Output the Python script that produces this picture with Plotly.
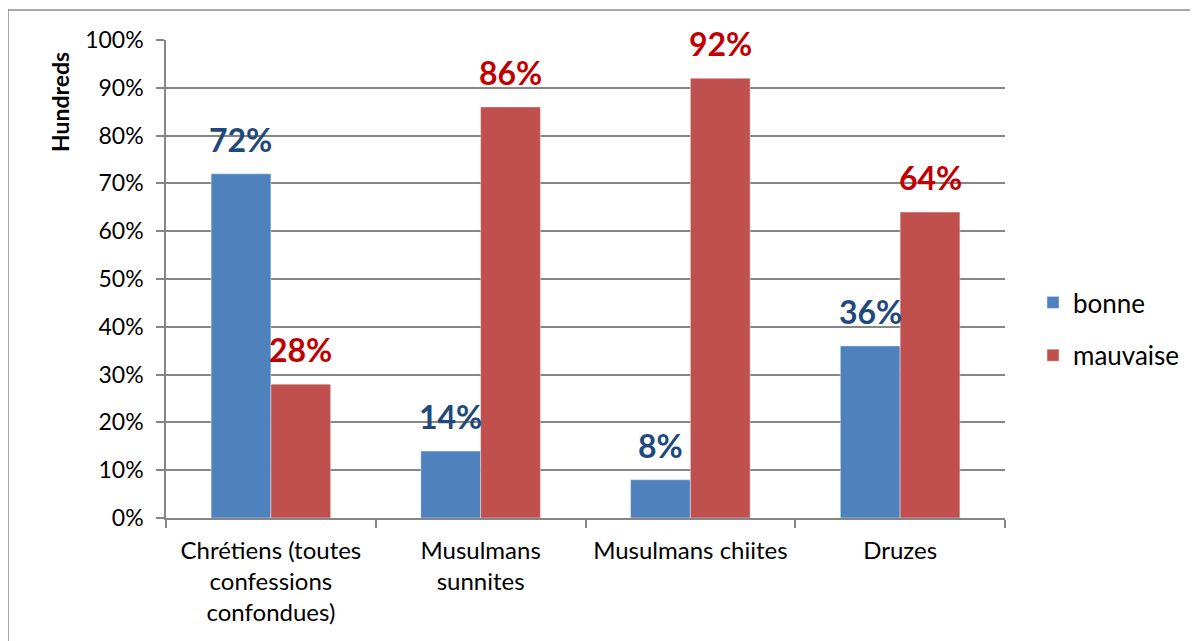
import plotly.graph_objects as go

categories = ["Chrétiens (toutes<br>confessions<br>confondues)", "Musulmans<br>sunnites", "Musulmans chiites", "Druzes"]
bonne = [72, 14, 8, 36]
mauvaise = [28, 86, 92, 64]
series_names = ["bonne", "mauvaise"]
tick_vals = [0, 10, 20, 30, 40, 50, 60, 70, 80, 90, 100]
tick_text = ["0%", "10%", "20%", "30%", "40%", "50%", "60%", "70%", "80%", "90%", "100%"]

FONT = "Lato"
BLUE = "#4F81BD"
RED = "#C0504D"
BLUE_TXT = "#1F497D"
RED_TXT = "#C00000"
GRID = "#868686"

OFF = 8  # page body margin
W, H = 1198, 641
L, T = 166 - OFF, 40 - OFF
R = W - (1005 - OFF)
B = H - (518 - OFF)
pw = W - L - R
ph = H - T - B


def px_x(page_x):
    return (page_x - OFF - L) / pw


def px_y(page_y):
    return 1 - (page_y - OFF - T) / ph


fig = go.Figure()
fig.add_trace(go.Bar(x=categories, y=bonne, name=series_names[0], marker_color=BLUE,
                     legendgroup="a"))
fig.add_trace(go.Bar(x=categories, y=mauvaise, name=series_names[1], marker_color=RED,
                     legendgroup="b"))

annotations = []
for vals, shift, col in [(bonne, -30, BLUE_TXT), (mauvaise, 30, RED_TXT)]:
    for c, v in zip(categories, vals):
        annotations.append(dict(x=c, y=v, xref="x", yref="y", text=f"{v}%",
                                showarrow=False, xshift=shift, yanchor="bottom", yshift=13,
                                font=dict(family=FONT, size=32, color=col, weight="bold")))

annotations.append(dict(text="<b>Hundreds</b>", xref="paper", yref="paper",
                        x=px_x(60), y=px_y(102), textangle=-90, xanchor="center", yanchor="middle",
                        showarrow=False, font=dict(family=FONT, size=23, color="black")))

fig.update_layout(
    width=W, height=H,
    margin=dict(l=L, r=R, t=T, b=B),
    paper_bgcolor="white", plot_bgcolor="white",
    barmode="group", bargap=0.43, bargroupgap=0,
    font=dict(family=FONT, size=21, color="black"),
    showlegend=True,
    legend=dict(x=px_x(1033), y=px_y(279), xanchor="left", yanchor="top",
                font=dict(family=FONT, size=26, color="black"), tracegroupgap=16,
                bgcolor="rgba(0,0,0,0)"),
    annotations=annotations,
    shapes=[dict(type="rect", xref="paper", yref="paper",
                 x0=px_x(8), x1=px_x(1215),
                 y0=px_y(680), y1=px_y(10),
                 line=dict(color="#8C8C8C", width=1.5), layer="below")],
)

fig.update_yaxes(range=[0, 100], tickvals=tick_vals, ticktext=tick_text,
                 showgrid=True, gridcolor=GRID, gridwidth=1.5,
                 showline=True, linecolor=GRID, linewidth=1.5,
                 ticks="outside", ticklen=8, tickcolor=GRID, tickwidth=1.5,
                 ticklabelstandoff=8,
                 tickfont=dict(family=FONT, size=23), zeroline=False)
fig.update_xaxes(showgrid=False, showline=True, linecolor=GRID, linewidth=1.5,
                 ticks="outside", ticklen=8, tickcolor=GRID, tickwidth=1.5,
                 ticklabelstandoff=10,
                 tickson="boundaries", tickfont=dict(family=FONT, size=24))

fig.write_html("out.html")
